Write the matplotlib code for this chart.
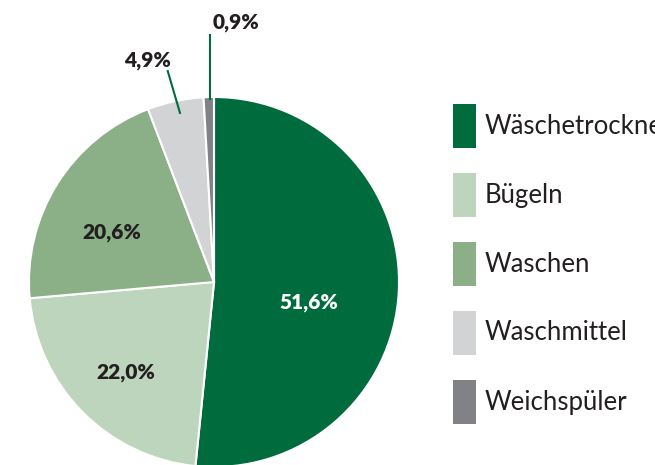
import matplotlib
matplotlib.use("Agg")
import matplotlib.pyplot as plt
from matplotlib.patches import Rectangle

plt.rcParams['font.family'] = ['Lato', 'DejaVu Sans']

# data
labels = ['Wäschetrockner', 'Bügeln', 'Waschen', 'Waschmittel', 'Weichspüler']
values = [51.6, 22.0, 20.6, 4.9, 0.9]
value_texts = ['51,6%', '22,0%', '20,6%', '4,9%', '0,9%']
colors = ['#006B3D', '#BDD4BD', '#8BAF87', '#D1D3D4', '#808285']

W, H = 655, 465
fig = plt.figure(figsize=(W / 100, H / 100), dpi=100)

# pie axes: center (214, 282) px, radius 185 px
cx, cy, r = 214, 282, 185
ax = fig.add_axes([(cx - r) / W, (H - cy - r) / H, 2 * r / W, 2 * r / H])
wedges, _ = ax.pie(values, colors=colors, startangle=90, counterclock=False,
                   radius=1, wedgeprops=dict(edgecolor='white', linewidth=1.5))
ax.set_xlim(-1, 1)
ax.set_ylim(-1, 1)
ax.axis('off')

# inside labels
inside = {0: (0.51, -0.11), 1: (-0.475, -0.49), 2: (-0.55, 0.265)}
for i, (x, y) in inside.items():
    ax.text(x, y, value_texts[i], ha='center', va='center', fontsize=15,
            fontweight='heavy', color='white' if i == 0 else '#231F20')

# outside labels with leader lines
outside = {3: ((-0.184, 0.914), (-0.25, 1.14), (-0.357, 1.20)),
           4: ((-0.022, 0.99), (-0.022, 1.335), (0.12, 1.405))}
for i, (p0, p1, pt) in outside.items():
    ax.plot([p0[0], p1[0]], [p0[1], p1[1]], color='#006B3D', lw=1.5, clip_on=False)
    ax.text(pt[0], pt[1], value_texts[i], ha='center', va='center', fontsize=15,
            fontweight='heavy', color='#231F20', clip_on=False)

# legend drawn manually
top0, step = 104, 69
for i, (lab, col) in enumerate(zip(labels, colors)):
    y_top = top0 + i * step
    fig.add_artist(Rectangle((453 / W, (H - y_top - 44) / H), 23 / W, 44 / H,
                             transform=fig.transFigure, facecolor=col, edgecolor='none'))
    fig.text(485 / W, (H - y_top - 22) / H, lab, ha='left', va='center',
             fontsize=18.5, color='#231F20')

fig.savefig('out.png', dpi=100)
